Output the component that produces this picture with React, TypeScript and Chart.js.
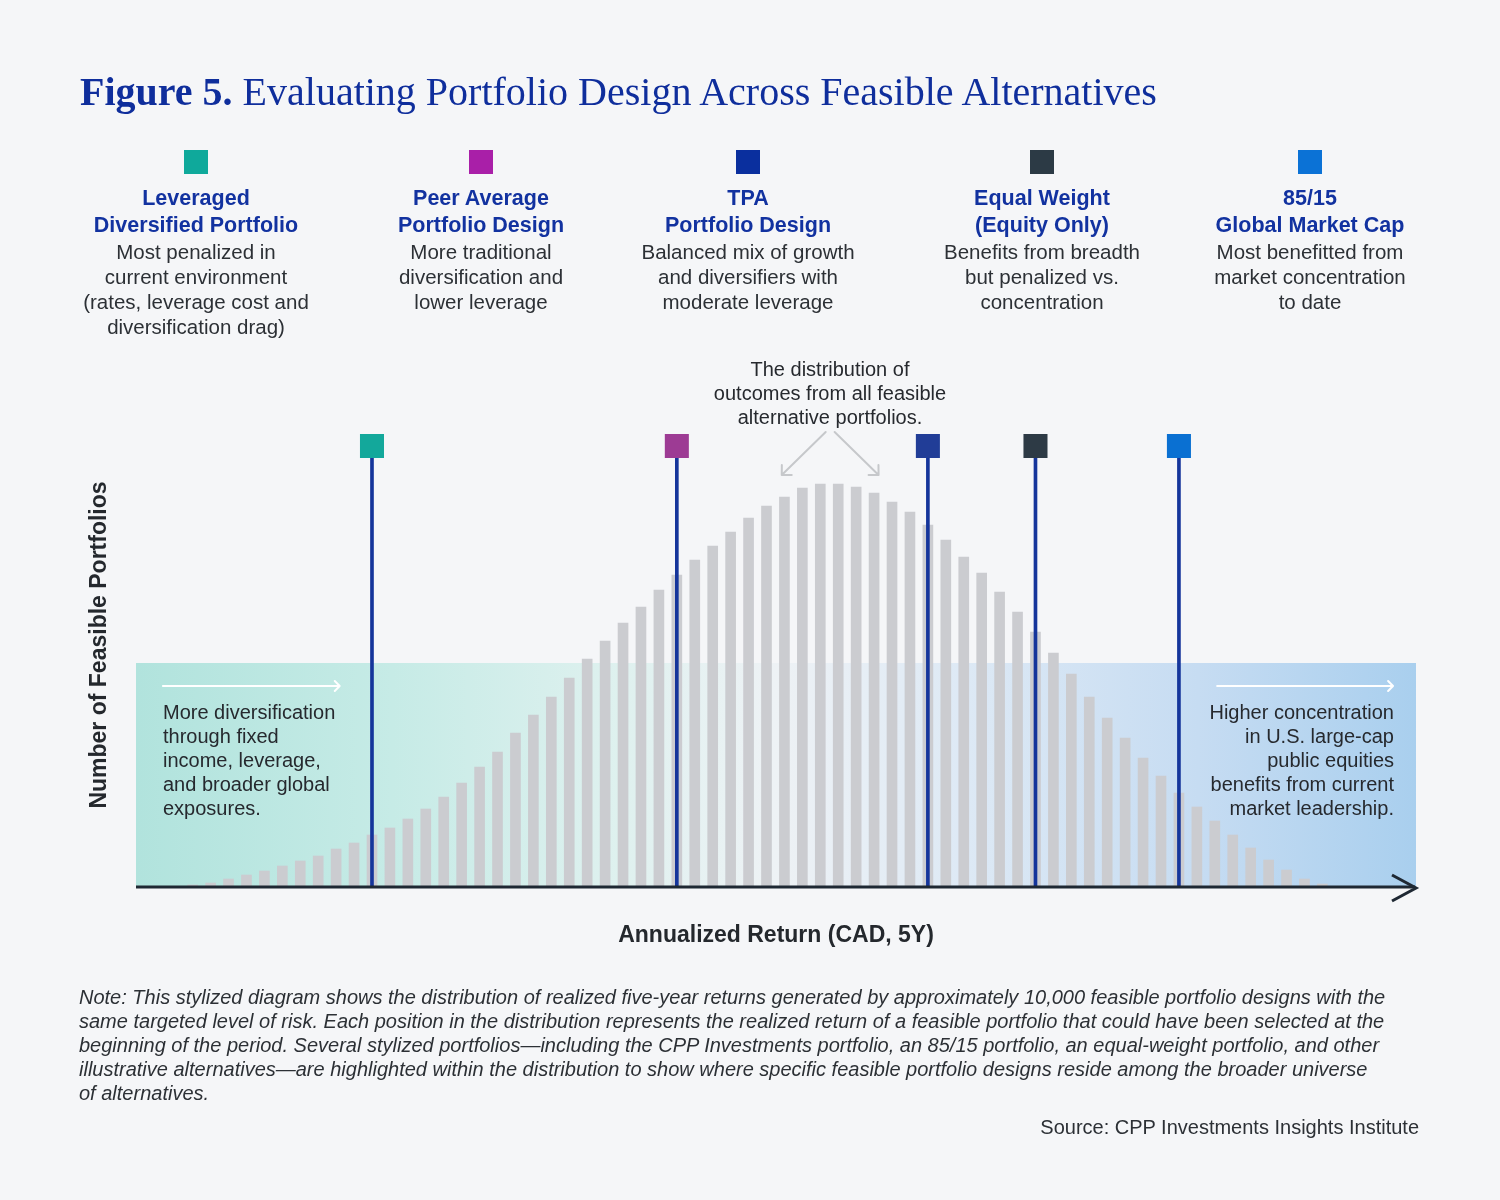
import React, { useEffect, useRef } from "react";
import { Chart, registerables } from "chart.js";

Chart.register(...registerables);

// Return buckets (left = lowest annualized return) and the number of feasible portfolios in each
const returnBuckets = [
  0, 1, 2, 3, 4, 5, 6, 7, 8, 9, 10, 11, 12, 13, 14, 15,
  16, 17, 18, 19, 20, 21, 22, 23, 24, 25, 26, 27, 28, 29, 30, 31,
  32, 33, 34, 35, 36, 37, 38, 39, 40, 41, 42, 43, 44, 45, 46, 47,
  48, 49, 50, 51, 52, 53, 54, 55, 56, 57, 58, 59, 60, 61, 62, 63,
];
const portfolioCounts = [
  2, 4, 8, 12, 16, 21, 26, 31, 38, 44, 52, 59, 68, 78, 90, 104,
  120, 135, 154, 172, 190, 209, 228, 246, 264, 280, 297, 312, 327, 341, 355, 369,
  381, 390, 399, 403, 403, 400, 394, 385, 375, 362, 347, 330, 314, 295, 275, 255,
  234, 213, 190, 169, 149, 129, 111, 94, 80, 66, 52, 39, 27, 17, 8, 3,
];

// Highlighted portfolio designs and the bucket each one lands in
const portfolioTitles = [
  ["Leveraged", "Diversified Portfolio"],
  ["Peer Average", "Portfolio Design"],
  ["TPA", "Portfolio Design"],
  ["Equal Weight", "(Equity Only)"],
  ["85/15", "Global Market Cap"],
];
const portfolioNotes = [
  ["Most penalized in", "current environment", "(rates, leverage cost and", "diversification drag)"],
  ["More traditional", "diversification and", "lower leverage"],
  ["Balanced mix of growth", "and diversifiers with", "moderate leverage"],
  ["Benefits from breadth", "but penalized vs.", "concentration"],
  ["Most benefitted from", "market concentration", "to date"],
];
const portfolioBuckets = [10, 27, 41, 47, 55];
const swatchColors = ["#0fa99b", "#a91fa8", "#0a2f9e", "#2c3a45", "#0b72d6"];
const markerColors = ["#13a89b", "#9d3b94", "#213d97", "#2d3a45", "#0a70d2"];
const legendCenters = [196, 481, 748, 1042, 1310];

const markerLevel = 441;
const bandTop = 224;
const xMin = -3.16;
const xMax = 68.22;
const yMax = 467;

const BG = "#f5f6f8";
const INK = "#26292e";
const NAVY = "#1232a0";

const sans = "'Liberation Sans', Arial, sans-serif";

function drawArrow(
  ctx: CanvasRenderingContext2D,
  x1: number, y1: number, x2: number, y2: number,
  color: string, width: number, head: number
) {
  const a = Math.atan2(y2 - y1, x2 - x1);
  ctx.save();
  ctx.strokeStyle = color;
  ctx.lineWidth = width;
  ctx.lineCap = "round";
  ctx.lineJoin = "round";
  ctx.beginPath();
  ctx.moveTo(x1, y1);
  ctx.lineTo(x2, y2);
  ctx.moveTo(x2 - head * Math.cos(a - Math.PI / 4), y2 - head * Math.sin(a - Math.PI / 4));
  ctx.lineTo(x2, y2);
  ctx.lineTo(x2 - head * Math.cos(a + Math.PI / 4), y2 - head * Math.sin(a + Math.PI / 4));
  ctx.stroke();
  ctx.restore();
}

const bandPlugin = {
  id: "regimeBand",
  beforeDatasetsDraw(chart: any) {
    const { ctx, chartArea, scales } = chart;
    const top = scales.y.getPixelForValue(bandTop);
    const g = ctx.createLinearGradient(chartArea.left, 0, chartArea.right, 0);
    g.addColorStop(0, "#b1e3dd");
    g.addColorStop(0.2, "#c6ebe6");
    g.addColorStop(0.38, "#dff1ef");
    g.addColorStop(0.5, "#eef2f5");
    g.addColorStop(0.65, "#dde9f5");
    g.addColorStop(0.83, "#c6dcf2");
    g.addColorStop(1, "#a9cfee");
    ctx.save();
    ctx.fillStyle = g;
    ctx.fillRect(chartArea.left, top, chartArea.right - chartArea.left, chartArea.bottom - top);
    ctx.restore();

    // direction arrows inside the band
    const x = scales.x, y = scales.y;
    const ay = y.getPixelForValue(201);
    drawArrow(ctx, x.getPixelForValue(-1.66), ay, x.getPixelForValue(8.2), ay, "#ffffff", 2, 7);
    drawArrow(ctx, x.getPixelForValue(57.13), ay, x.getPixelForValue(66.94), ay, "#ffffff", 2, 7);

    // pointers to the distribution
    const sy = y.getPixelForValue(455), ey = y.getPixelForValue(412);
    drawArrow(ctx, x.getPixelForValue(35.3), sy, x.getPixelForValue(32.85), ey, "#c6c8cb", 2, 10);
    drawArrow(ctx, x.getPixelForValue(35.8), sy, x.getPixelForValue(38.25), ey, "#c6c8cb", 2, 10);
  },
};

const axisPlugin = {
  id: "returnAxis",
  afterDatasetsDraw(chart: any) {
    const { ctx, chartArea } = chart;
    const b = chartArea.bottom;
    ctx.save();
    ctx.strokeStyle = "#1e2833";
    ctx.lineWidth = 3;
    ctx.beginPath();
    ctx.moveTo(chartArea.left, b);
    ctx.lineTo(chartArea.right - 1, b);
    ctx.stroke();
    ctx.lineJoin = "miter";
    ctx.beginPath();
    ctx.moveTo(chartArea.right - 24, b - 12);
    ctx.lineTo(chartArea.right, b + 1);
    ctx.lineTo(chartArea.right - 24, b + 14);
    ctx.stroke();
    ctx.restore();
  },
};

function DistributionChart() {
  const ref = useRef<HTMLCanvasElement | null>(null);
  useEffect(() => {
    if (!ref.current) return;
    const chart = new Chart(ref.current, {
      type: "bar",
      data: {
        datasets: [
          {
            type: "scatter",
            label: "Highlighted portfolios",
            data: portfolioBuckets.map((b) => ({ x: b, y: markerLevel })),
            pointStyle: "rect",
            pointRadius: 17,
            pointHoverRadius: 17,
            backgroundColor: markerColors,
            borderWidth: 0,
            order: 1,
          } as any,
          {
            type: "bar",
            label: "Stems",
            data: portfolioBuckets.map((b) => ({ x: b, y: markerLevel })),
            backgroundColor: "#15359b",
            barThickness: 3,
            grouped: false,
            order: 2,
          } as any,
          {
            type: "bar",
            label: "Feasible portfolios",
            data: returnBuckets.map((b, i) => ({ x: b, y: portfolioCounts[i] })),
            backgroundColor: "#cbccd0",
            barThickness: 10,
            grouped: false,
            order: 3,
          } as any,
        ],
      },
      options: {
        responsive: false,
        animation: false,
        layout: { padding: { left: 136, right: 84, top: 420, bottom: 313 } },
        scales: {
          x: { type: "linear", min: xMin, max: xMax, offset: false, bounds: "data", display: false },
          y: { type: "linear", min: 0, max: yMax, bounds: "data", display: false },
        },
        plugins: { legend: { display: false }, tooltip: { enabled: false } },
      },
      plugins: [bandPlugin, axisPlugin],
    });
    return () => chart.destroy();
  }, []);
  return (
    <canvas
      ref={ref}
      width={1500}
      height={1200}
      style={{ position: "absolute", left: 0, top: 0, width: 1500, height: 1200 }}
    />
  );
}

const noteLines = [
  "Note: This stylized diagram shows the distribution of realized five-year returns generated by approximately 10,000 feasible portfolio designs with the",
  "same targeted level of risk. Each position in the distribution represents the realized return of a feasible portfolio that could have been selected at the",
  "beginning of the period. Several stylized portfolios\u2014including the CPP Investments portfolio, an 85/15 portfolio, an equal-weight portfolio, and other",
  "illustrative alternatives\u2014are highlighted within the distribution to show where specific feasible portfolio designs reside among the broader universe",
  "of alternatives.",
];

export default function App() {
  useEffect(() => {
    document.body.style.margin = "0";
    document.body.style.background = BG;
  }, []);

  const abs = (s: React.CSSProperties): React.CSSProperties => ({ position: "absolute", ...s });

  return (
    <div style={{ position: "relative", width: 1500, height: 1200, background: BG, overflow: "hidden", fontFamily: sans }}>
      <DistributionChart />

      <div
        style={abs({
          left: 80, top: 69, fontFamily: "'Liberation Serif', 'Times New Roman', serif",
          fontSize: 40, lineHeight: "46px", color: "#0f2e9c", whiteSpace: "nowrap",
        })}
      >
        <b>Figure 5.</b> Evaluating Portfolio Design Across Feasible Alternatives
      </div>

      {portfolioTitles.map((t, i) => (
        <div key={i} style={abs({ left: legendCenters[i] - 160, top: 150, width: 320, textAlign: "center" })}>
          <div style={{ width: 24, height: 24, margin: "0 auto", background: swatchColors[i] }} />
          <div style={{ marginTop: 11, fontSize: 21.5, fontWeight: 700, lineHeight: "27px", color: NAVY }}>
            {t.map((l, j) => <div key={j}>{l}</div>)}
          </div>
          <div style={{ fontSize: 20.5, lineHeight: "25px", color: "#2c3035" }}>
            {portfolioNotes[i].map((l, j) => <div key={j}>{l}</div>)}
          </div>
        </div>
      ))}

      <div style={abs({ left: 680, top: 357, width: 300, textAlign: "center", fontSize: 20, lineHeight: "24px", color: INK })}>
        <div>The distribution of</div>
        <div>outcomes from all feasible</div>
        <div>alternative portfolios.</div>
      </div>

      <div style={abs({ left: 163, top: 700, fontSize: 20, lineHeight: "24px", color: INK, whiteSpace: "nowrap" })}>
        <div>More diversification</div>
        <div>through fixed</div>
        <div>income, leverage,</div>
        <div>and broader global</div>
        <div>exposures.</div>
      </div>

      <div style={abs({ left: 1094, top: 700, width: 300, textAlign: "right", fontSize: 20, lineHeight: "24px", color: INK, whiteSpace: "nowrap" })}>
        <div>Higher concentration</div>
        <div>in U.S. large-cap</div>
        <div>public equities</div>
        <div>benefits from current</div>
        <div>market leadership.</div>
      </div>

      <div style={abs({ left: 476, top: 920, width: 600, textAlign: "center", fontSize: 23, fontWeight: 700, lineHeight: "28px", color: "#24282d" })}>
        Annualized Return (CAD, 5Y)
      </div>

      <div
        style={abs({
          left: 98 - 250, top: 645 - 14, width: 500, height: 28, textAlign: "center",
          fontSize: 23, fontWeight: 700, lineHeight: "28px", color: "#24282d",
          transform: "rotate(-90deg)", transformOrigin: "50% 50%",
        })}
      >
        Number of Feasible Portfolios
      </div>

      <div style={abs({ left: 79, top: 985, fontSize: 20, fontStyle: "italic", lineHeight: "24px", color: "#2c3035", whiteSpace: "nowrap" })}>
        {noteLines.map((l, i) => <div key={i}>{l}</div>)}
      </div>

      <div style={abs({ right: 81, top: 1115, fontSize: 20, lineHeight: "24px", color: "#2c3035", whiteSpace: "nowrap" })}>
        Source: CPP Investments Insights Institute
      </div>
    </div>
  );
}
